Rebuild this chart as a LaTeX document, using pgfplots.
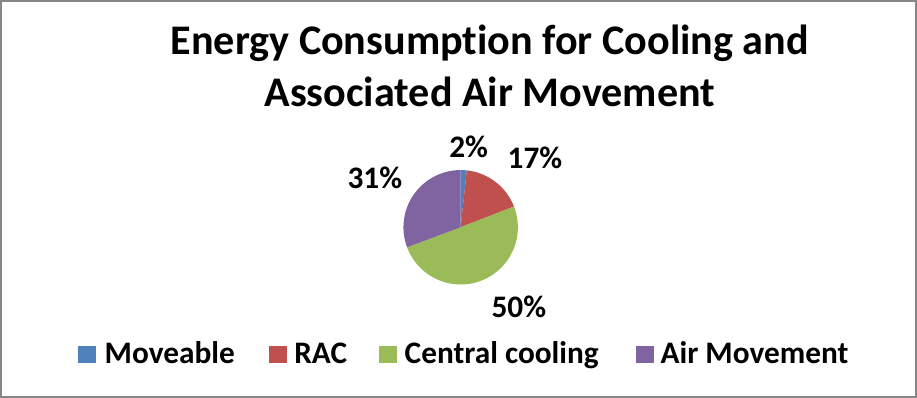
\documentclass[border=0pt]{standalone}
\usepackage{fontspec}
\setmainfont{Carlito}[Ligatures=NoCommon]
\usepackage{pgfplots}
\pgfplotsset{compat=1.18}
\definecolor{cBlue}{HTML}{4F81BD}
\definecolor{cRed}{HTML}{C0504D}
\definecolor{cGreen}{HTML}{9BBB59}
\definecolor{cPurple}{HTML}{8064A2}
\definecolor{cBorder}{HTML}{868686}
% shares in percent
\def\pA{1.7}\def\pB{17.4}\def\pC{50.2}\def\pD{30.7}
\pgfmathsetmacro\aA{90}
\pgfmathsetmacro\aB{90-3.6*\pA}
\pgfmathsetmacro\aC{\aB-3.6*\pB}
\pgfmathsetmacro\aD{\aC-3.6*\pC}
\pgfmathsetmacro\aE{\aD-3.6*\pD}
\newcommand\lblfont{\bfseries\fontsize{23.4}{28}\selectfont}
\begin{document}
\begin{tikzpicture}
\begin{axis}[
  scale only axis, width=687.75pt, height=300pt,
  xmin=0, xmax=917, ymin=0, ymax=400, y dir=reverse,
  hide axis, clip=false,
]
\draw[cBorder, line width=1.2pt] (3.7,4.3) rectangle (916,399);
\addplot[fill=cBlue, draw=none, domain=\aB:\aA, samples=10, variable=\t]
  ({462+57*cos(\t)},{230-57*sin(\t)}) -- (462,230) -- cycle;
\addplot[fill=cRed, draw=none, domain=\aC:\aB, samples=40, variable=\t]
  ({462+57*cos(\t)},{230-57*sin(\t)}) -- (462,230) -- cycle;
\addplot[fill=cGreen, draw=none, domain=\aD:\aC, samples=100, variable=\t]
  ({462+57*cos(\t)},{230-57*sin(\t)}) -- (462,230) -- cycle;
\addplot[fill=cPurple, draw=none, domain=\aE:\aD, samples=70, variable=\t]
  ({462+57*cos(\t)},{230-57*sin(\t)}) -- (462,230) -- cycle;
\node[font=\bfseries\fontsize{31.5}{38}\selectfont, anchor=base] at (491,57.7) {Energy Consumption for Cooling and};
\node[font=\bfseries\fontsize{31.5}{38}\selectfont, anchor=base] at (491,109.3) {Associated Air Movement};
\node[font=\lblfont, anchor=base] at (470,160) {2\%};
\node[font=\lblfont, anchor=base] at (536,171.7) {17\%};
\node[font=\lblfont, anchor=base] at (520,320) {50\%};
\node[font=\lblfont, anchor=base] at (376.5,191.7) {31\%};
% legend
\fill[cBlue]   (81,348) rectangle (98.5,365.5);
\fill[cRed]    (271,348) rectangle (288.5,365.5);
\fill[cGreen]  (381,348) rectangle (398.5,365.5);
\fill[cPurple] (637,348) rectangle (654.5,365.5);
\node[font=\lblfont, anchor=base west, inner sep=0pt] at (107,365.7) {Moveable};
\node[font=\lblfont, anchor=base west, inner sep=0pt] at (296,365.7) {RAC};
\node[font=\lblfont, anchor=base west, inner sep=0pt] at (406,365.7) {Central cooling};
\node[font=\lblfont, anchor=base west, inner sep=0pt] at (661,365.7) {Air Movement};
\end{axis}
\end{tikzpicture}
\end{document}
